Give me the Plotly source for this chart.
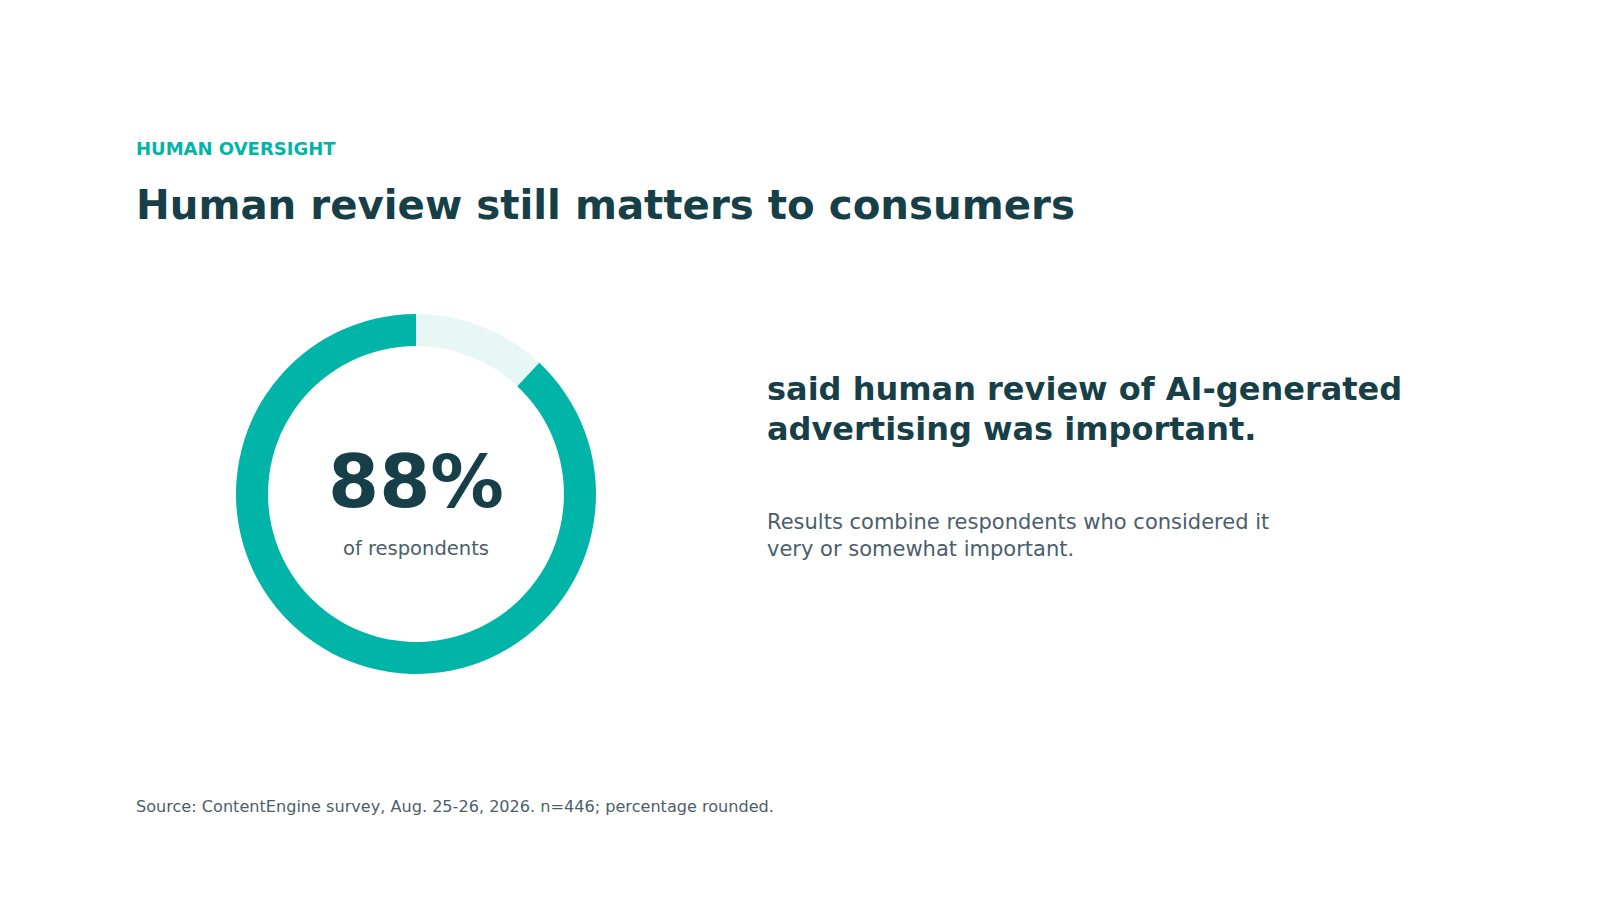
import plotly.graph_objects as go

# ---- data ----
segment_labels = ["Not important", "Important (very or somewhat)"]
segment_values = [12, 88]
segment_colors = ["#E6F7F5", "#00B5A8"]
headline_value = "88%"
eyebrow = "HUMAN OVERSIGHT"
title = "Human review still matters to consumers"
center_sub = "of respondents"
statement_lines = ["said human review of AI-generated", "advertising was important."]
note_lines = ["Results combine respondents who considered it", "very or somewhat important."]
source = "Source: ContentEngine survey, Aug. 25-26, 2026. n=446; percentage rounded."

W, H = 1600, 900
DARK = "#173F48"
GRAY = "#4B5E6A"
TEAL = "#00B5A8"
FONT = "DejaVu Sans"
OFF = 8  # page body margin compensation


def px(x, y):
    return (x - OFF) / W, 1 - (y - OFF) / H


fig = go.Figure()
cx, cy, r = 416, 494, 180
x0, _ = px(cx - r, 0)
x1, _ = px(cx + r, 0)
_, ytop = px(0, cy - r)
_, ybot = px(0, cy + r)
fig.add_trace(go.Pie(
    labels=segment_labels,
    values=segment_values,
    marker=dict(colors=segment_colors, line=dict(width=0)),
    hole=0.822,
    sort=False,
    direction="clockwise",
    rotation=0,
    textinfo="none",
    hoverinfo="label+percent",
    showlegend=False,
    domain=dict(x=[x0, x1], y=[ybot, ytop]),
))

ann = []


def add(text, x, y, size, color, bold=False, xanchor="left"):
    xx, yy = px(x, y)
    ann.append(dict(
        text=f"<b>{text}</b>" if bold else text,
        x=xx, y=yy, xref="paper", yref="paper",
        xanchor=xanchor, yanchor="middle", showarrow=False,
        font=dict(family=FONT, size=size, color=color),
    ))


add(eyebrow, 134, 148, 18, TEAL, bold=True)
add(title, 134, 205, 40.3, DARK, bold=True)
add(headline_value, cx, 482, 73.5, DARK, bold=True, xanchor="center")
add(center_sub, cx, 548, 19.5, GRAY, xanchor="center")
add(statement_lines[0], 765, 389, 32, DARK, bold=True)
add(statement_lines[1], 765, 429, 32, DARK, bold=True)
add(note_lines[0], 765, 522, 21, GRAY)
add(note_lines[1], 765, 549, 21, GRAY)
add(source, 134, 806, 16.1, GRAY)

fig.update_layout(
    width=W, height=H,
    margin=dict(l=0, r=0, t=0, b=0),
    paper_bgcolor="white",
    plot_bgcolor="white",
    annotations=ann,
    font=dict(family=FONT),
)

fig.write_html("out.html")
